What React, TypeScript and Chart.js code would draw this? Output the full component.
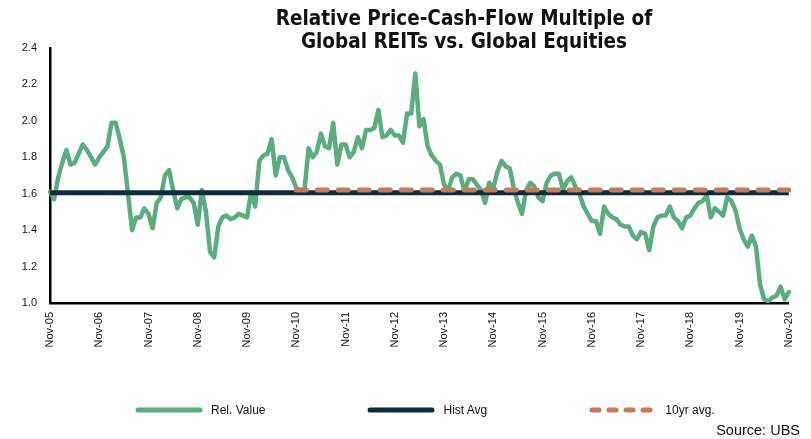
import React, { useEffect, useRef } from 'react';
import { Chart, registerables } from 'chart.js';

Chart.register(...registerables);

// ---------- data ----------
const tickLabels = [
  'Nov-05', 'Nov-06', 'Nov-07', 'Nov-08', 'Nov-09', 'Nov-10', 'Nov-11', 'Nov-12',
  'Nov-13', 'Nov-14', 'Nov-15', 'Nov-16', 'Nov-17', 'Nov-18', 'Nov-19', 'Nov-20',
];

const monthNames = ['Jan', 'Feb', 'Mar', 'Apr', 'May', 'Jun', 'Jul', 'Aug', 'Sep', 'Oct', 'Nov', 'Dec'];

// monthly relative value, Nov-05 .. Nov-20
const relValue = [
  1.61, 1.57, 1.69, 1.77, 1.84, 1.76, 1.77, 1.82, 1.87, 1.84, 1.80, 1.76,
  1.80, 1.83, 1.86, 1.99, 1.99, 1.90, 1.80, 1.60, 1.40, 1.47, 1.47, 1.52,
  1.49, 1.41, 1.55, 1.58, 1.70, 1.73, 1.62, 1.52, 1.57, 1.58, 1.58, 1.55,
  1.43, 1.62, 1.50, 1.28, 1.25, 1.42, 1.47, 1.48, 1.46, 1.47, 1.49, 1.48,
  1.47, 1.61, 1.53, 1.78, 1.81, 1.82, 1.90, 1.70, 1.80, 1.80, 1.73, 1.69,
  1.63, 1.62, 1.62, 1.85, 1.80, 1.83, 1.93, 1.86, 1.85, 1.99, 1.76, 1.87,
  1.87, 1.80, 1.83, 1.91, 1.85, 1.95, 1.95, 1.96, 2.06, 1.91, 1.92, 1.95,
  1.92, 1.92, 1.88, 2.04, 2.04, 2.26, 1.97, 2.01, 1.86, 1.81, 1.78, 1.76,
  1.65, 1.62, 1.69, 1.71, 1.70, 1.61, 1.68, 1.68, 1.65, 1.62, 1.55, 1.66,
  1.63, 1.72, 1.78, 1.75, 1.74, 1.63, 1.55, 1.49, 1.62, 1.66, 1.64, 1.58,
  1.56, 1.66, 1.70, 1.71, 1.71, 1.62, 1.67, 1.69, 1.64, 1.60, 1.53, 1.49,
  1.45, 1.45, 1.38, 1.53, 1.49, 1.47, 1.46, 1.43, 1.42, 1.42, 1.37, 1.35,
  1.39, 1.38, 1.29, 1.42, 1.47, 1.48, 1.48, 1.53, 1.47, 1.45, 1.41, 1.47,
  1.48, 1.52, 1.55, 1.56, 1.59, 1.47, 1.52, 1.50, 1.48, 1.58, 1.56, 1.51,
  1.41, 1.35, 1.31, 1.37, 1.31, 1.10, 1.02, 1.01, 1.03, 1.04, 1.09, 1.02,
  1.06,
];

const histAvgValue = 1.605;
const tenYrAvgValue = 1.62;
const tenYrStart = 'Nov-10';

const seriesLabels = ['Rel. Value', 'Hist Avg', '10yr avg.'];

// ---------- derived ----------
const categories = relValue.map((_, i) => {
  const m = (10 + i) % 12;
  const yr = 5 + Math.floor((i + 10) / 12);
  return `${monthNames[m]}-${String(yr).padStart(2, '0')}`;
});
const startIdx = categories.indexOf(tenYrStart);
const histAvg = categories.map(() => histAvgValue);
const tenYrAvg = categories.map((_, i) => (i >= startIdx ? tenYrAvgValue : null));

// ---------- styles ----------
const GREEN = '#5BAD7F';
const NAVY = '#0B2D3B';
const ORANGE = '#C67A5C';
const FONT = '"Liberation Sans", Arial, sans-serif';

export default function App() {
  const ref = useRef<HTMLCanvasElement>(null);

  useEffect(() => {
    if (!ref.current) return;
    const chart = new Chart(ref.current, {
      type: 'line',
      data: {
        labels: categories,
        datasets: [
          {
            label: seriesLabels[0],
            data: relValue,
            borderColor: GREEN,
            backgroundColor: GREEN,
            borderWidth: 4.5,
            pointRadius: 0,
            borderJoinStyle: 'round',
            borderCapStyle: 'round',
            tension: 0,
            order: 3,
          },
          {
            label: seriesLabels[1],
            data: histAvg,
            borderColor: NAVY,
            backgroundColor: NAVY,
            borderWidth: 5,
            pointRadius: 0,
            order: 2,
          },
          {
            label: seriesLabels[2],
            data: tenYrAvg,
            borderColor: ORANGE,
            backgroundColor: ORANGE,
            borderWidth: 5,
            borderDash: [10, 11],
            borderCapStyle: 'round',
            pointRadius: 0,
            order: 1,
          },
        ],
      },
      options: {
        responsive: false,
        animation: false,
        layout: { padding: { left: 0, top: 48, right: 16, bottom: 76 } },
        plugins: {
          legend: { display: false },
          title: { display: false },
          tooltip: { enabled: false },
        },
        scales: {
          x: {
            grid: { display: false, drawTicks: false },
            border: { display: true, color: '#000', width: 2.5 },
            ticks: {
              autoSkip: false,
              maxRotation: 90,
              minRotation: 90,
              padding: 9,
              color: '#111',
              font: { size: 11, family: FONT },
              callback: (_v: any, i: number) => (i % 12 === 0 ? tickLabels[i / 12] : ''),
            },
            afterFit: (s: any) => {
              s.height = 60;
            },
          },
          y: {
            min: 1.0,
            max: 2.4,
            grid: { display: false, drawTicks: false },
            border: { display: true, color: '#000', width: 2.5 },
            ticks: {
              stepSize: 0.2,
              padding: 13,
              color: '#111',
              font: { size: 11, family: FONT },
              callback: (v: any) => Number(v).toFixed(1),
            },
            afterFit: (s: any) => {
              s.width = 50;
            },
          },
        },
      },
    });
    return () => chart.destroy();
  }, []);

  const legendItems = [
    { label: seriesLabels[0], color: GREEN, dash: undefined as string | undefined },
    { label: seriesLabels[1], color: NAVY, dash: undefined as string | undefined },
    { label: seriesLabels[2], color: ORANGE, dash: '7 10' },
  ];

  return (
    <div
      style={{
        position: 'fixed',
        left: 0,
        top: 0,
        width: 811,
        height: 439,
        background: '#fff',
        fontFamily: FONT,
        color: '#111',
      }}
    >
      <canvas ref={ref} width={811} height={439} style={{ position: 'absolute', left: 0, top: 0 }} />
      <div
        style={{
          position: 'absolute',
          left: 214,
          top: 7,
          width: 500,
          textAlign: 'center',
          fontWeight: 'bold',
          fontSize: 20.5,
          lineHeight: '23px',
          fontFamily: '"DejaVu Sans Condensed", "Liberation Sans", Arial, sans-serif',
        }}
      >
        Relative Price-Cash-Flow Multiple of
        <br />
        Global REITs vs. Global Equities
      </div>
      <div
        style={{
          position: 'absolute',
          left: 135,
          top: 402,
          display: 'flex',
          alignItems: 'center',
          gap: 102,
          fontSize: 12,
          lineHeight: '16px',
        }}
      >
        {legendItems.map((it) => (
          <div key={it.label} style={{ display: 'flex', alignItems: 'center', gap: 8 }}>
            <svg width={68} height={8}>
              <line
                x1={3}
                y1={4}
                x2={65}
                y2={4}
                stroke={it.color}
                strokeWidth={5}
                strokeLinecap="round"
                strokeDasharray={it.dash}
              />
            </svg>
            <span>{it.label}</span>
          </div>
        ))}
      </div>
      <div style={{ position: 'absolute', right: 11, top: 421, fontSize: 14.5, lineHeight: '18px' }}>
        Source: UBS
      </div>
    </div>
  );
}
